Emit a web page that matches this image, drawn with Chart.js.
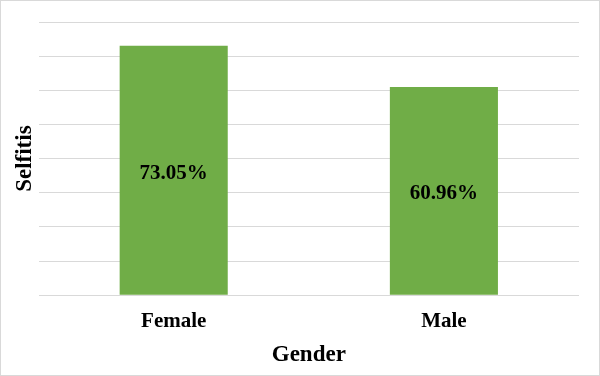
<!DOCTYPE html>
<html lang="en">
<head>
  <meta charset="UTF-8">
  <title>Selfitis by Gender</title>
  <style>
    body {
      margin: 0;
      padding: 0;
      background-color: #ffffff;
    }
    .chart-box {
      width: 600px;
      height: 376px;
      box-sizing: border-box;
      border: 1px solid #d9d9d9;
      position: relative;
    }
    canvas {
      display: block;
    }
  </style>
  <script src="https://cdn.jsdelivr.net/npm/chart.js"></script>
</head>
<body>
  <div class="chart-box">
    <canvas id="selfitisChart" width="598" height="374"></canvas>
  </div>

  <script>
    const genders = ["Female", "Male"];
    const selfitisValues = [73.05, 60.96];
    const valueLabels = ["73.05%", "60.96%"];

    const barFont = "'Liberation Serif', 'Times New Roman', serif";

    // writes the percentage in the middle of each bar
    const centerLabels = {
      id: "centerLabels",
      afterDatasetsDraw(chart) {
        const ctx = chart.ctx;
        const meta = chart.getDatasetMeta(0);
        ctx.save();
        ctx.font = "bold 21px " + barFont;
        ctx.fillStyle = "#000000";
        ctx.textAlign = "center";
        ctx.textBaseline = "middle";
        meta.data.forEach((bar, i) => {
          const mid = (bar.y + bar.base) / 2 + 3;
          ctx.fillText(valueLabels[i], bar.x, mid);
        });
        ctx.restore();
      }
    };

    const ctx = document.getElementById("selfitisChart").getContext("2d");
    new Chart(ctx, {
      type: "bar",
      data: {
        labels: genders,
        datasets: [{
          label: "Selfitis",
          data: selfitisValues,
          backgroundColor: "#70ad47",
          barPercentage: 0.4,
          categoryPercentage: 1.0
        }]
      },
      options: {
        responsive: false,
        animation: false,
        layout: {
          padding: { left: 10, right: 20, top: 21, bottom: 6 }
        },
        plugins: {
          legend: { display: false },
          tooltip: { enabled: false }
        },
        scales: {
          x: {
            grid: { display: false, drawTicks: false },
            border: { display: false },
            ticks: {
              color: "#000000",
              padding: 14,
              font: { family: barFont, size: 21, weight: "bold" }
            },
            title: {
              display: true,
              text: "Gender",
              color: "#000000",
              padding: { top: -7, bottom: 0 },
              font: { family: barFont, size: 23, weight: "bold" }
            }
          },
          y: {
            min: 0,
            max: 80,
            grid: { color: "#d9d9d9", lineWidth: 1, drawTicks: false },
            border: { display: false },
            ticks: { display: false, stepSize: 10 },
            title: {
              display: true,
              text: "Selfitis",
              color: "#000000",
              padding: { top: 0, bottom: 0 },
              font: { family: barFont, size: 23, weight: "bold" }
            }
          }
        }
      },
      plugins: [centerLabels]
    });
  </script>
</body>
</html>
